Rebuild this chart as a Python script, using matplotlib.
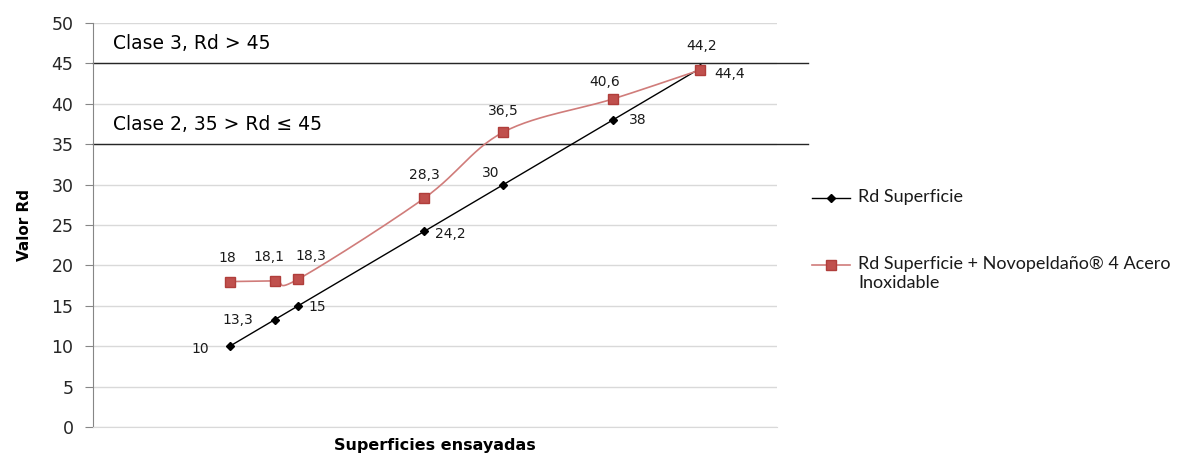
import numpy as np
import matplotlib.pyplot as plt
from matplotlib.lines import Line2D

# x positions are the measured Rd of each surface
superficie = [10, 13.3, 15, 24.2, 30, 38, 44.4]
novopeldano = [18, 18.1, 18.3, 28.3, 36.5, 40.6, 44.2]
yticks = [0, 5, 10, 15, 20, 25, 30, 35, 40, 45, 50]
clase_limits = [45, 35]
clase_labels = ["Clase 3, Rd > 45", "Clase 2, 35 > Rd \u2264 45"]
series_names = ["Rd Superficie", "Rd Superficie + Novopelda\u00f1o\u00ae 4 Acero\nInoxidable"]

# label offsets in points
off_black = [(-21, -2), (-27, 0), (14, -1), (19, -2), (-9, 8), (18, 0), (21, -4)]
off_red = [(-2, 17), (-4, 17), (9, 17), (0, 17), (0, 15), (-6, 12), (1, 17)]


def smooth(x, y, n=30):
    # Catmull-Rom style smoothing like Excel's smoothed line
    x = np.asarray(x, float)
    y = np.asarray(y, float)
    px = np.concatenate([[2 * x[0] - x[1]], x, [2 * x[-1] - x[-2]]])
    py = np.concatenate([[2 * y[0] - y[1]], y, [2 * y[-1] - y[-2]]])
    xs, ys = [], []
    t = np.linspace(0, 1, n)
    for i in range(1, len(px) - 2):
        p0, p1, p2, p3 = (np.array([px[j], py[j]]) for j in range(i - 1, i + 3))
        c1 = p1 + (p2 - p0) / 6
        c2 = p2 - (p3 - p1) / 6
        b = ((1 - t) ** 3)[:, None] * p1 + (3 * (1 - t) ** 2 * t)[:, None] * c1 \
            + (3 * (1 - t) * t ** 2)[:, None] * c2 + (t ** 3)[:, None] * p2
        xs.extend(b[:, 0])
        ys.extend(b[:, 1])
    return xs, ys


def fmt(v):
    return ("%g" % v).replace(".", ",")


fig = plt.figure(figsize=(11.8, 4.53), dpi=100)
ax = fig.add_axes([0.0788, 0.0574, 0.5797, 0.8918])

red = "#C0504D"
red_line = "#D07C7A"
ax.set_xlim(0, 50)
ax.set_ylim(0, 50)
ax.set_yticks(yticks)
ax.set_xticks([])
ax.grid(axis="y", color="#D9D9D9", linewidth=1)
ax.set_axisbelow(True)
for s in ["top", "right"]:
    ax.spines[s].set_visible(False)
ax.spines["left"].set_color("#868686")
ax.spines["bottom"].set_color("#D9D9D9")
ax.tick_params(axis="y", colors="#868686", labelcolor="#262626", labelsize=12.5,
               length=6, pad=8)

for lim, lab in zip(clase_limits, clase_labels):
    ax.axhline(lim, xmin=0, xmax=1.046, color="#262626", linewidth=1, clip_on=False)
    ax.text(1.45, lim + 1.3, lab, fontsize=13.5, color="black", va="bottom")

ax.plot(superficie, superficie, color="black", linewidth=1, zorder=3)
ax.plot(superficie, superficie, linestyle="none", marker="D", markersize=4.5,
        color="black", zorder=4)

sx, sy = smooth(superficie, novopeldano)
ax.plot(sx, sy, color=red_line, linewidth=1.2, zorder=3)
ax.plot(superficie, novopeldano, linestyle="none", marker="s", markersize=6.5,
        color=red, markeredgecolor="#B03E3B", zorder=4)

for x, y, o in zip(superficie, superficie, off_black):
    ax.annotate(fmt(y), (x, y), xytext=o, textcoords="offset points",
                ha="center", va="center", fontsize=10, color="#1a1a1a")
for x, y, o in zip(superficie, novopeldano, off_red):
    ax.annotate(fmt(y), (x, y), xytext=o, textcoords="offset points",
                ha="center", va="center", fontsize=10, color="#1a1a1a")

ax.set_ylabel("Valor Rd", fontsize=11, fontweight="bold", labelpad=14)
ax.set_xlabel("Superficies ensayadas", fontsize=11.5, fontweight="bold", labelpad=8)

# legend drawn by hand: marker aligned with first text line
leg_x0, leg_x1, leg_tx = 812 / 1180, 850 / 1180, 858 / 1180
leg_y = [1 - 198 / 453, 1 - 265 / 453]
line_styles = [dict(color="black", linewidth=1), dict(color=red_line, linewidth=1.2)]
marker_styles = [
    dict(color="black", marker="D", markersize=4.5),
    dict(color=red, marker="s", markersize=6.5, markeredgecolor="#B03E3B"),
]
for yy, ls, ms, name in zip(leg_y, line_styles, marker_styles, series_names):
    fig.add_artist(Line2D([leg_x0, leg_x1], [yy, yy], transform=fig.transFigure, **ls))
    fig.add_artist(Line2D([(leg_x0 + leg_x1) / 2], [yy], transform=fig.transFigure,
                          linestyle="none", **ms))
    fig.text(leg_tx, yy + 9 / 453, name, fontsize=13, va="top", ha="left",
             color="#1a1a1a", linespacing=1.25, family="Lato")

fig.savefig("out.png", dpi=100)
